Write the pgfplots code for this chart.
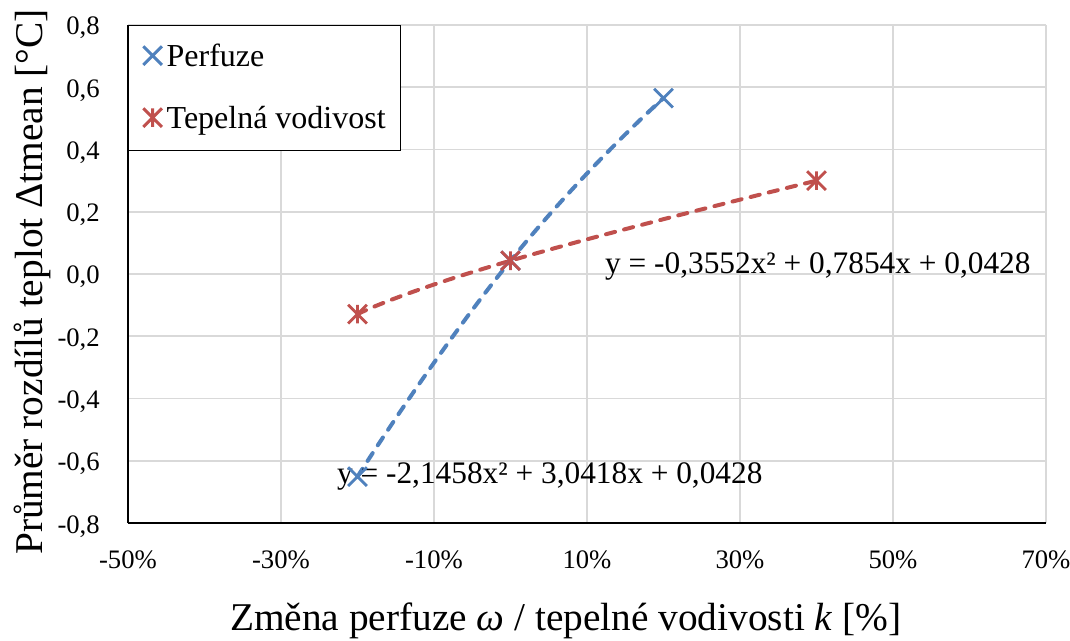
\documentclass[border=0pt]{standalone}
\usepackage{fontspec}
\setmainfont{Liberation Serif}
\usepackage{pgfplots}
\pgfplotsset{compat=1.18}
\definecolor{sblue}{HTML}{4F81BD}
\definecolor{sred}{HTML}{C0504D}
\definecolor{gridc}{HTML}{D9D9D9}
\pgfdeclareplotmark{xcross}{%
  \pgfpathmoveto{\pgfqpoint{-\pgfplotmarksize}{-\pgfplotmarksize}}%
  \pgfpathlineto{\pgfqpoint{\pgfplotmarksize}{\pgfplotmarksize}}%
  \pgfpathmoveto{\pgfqpoint{-\pgfplotmarksize}{\pgfplotmarksize}}%
  \pgfpathlineto{\pgfqpoint{\pgfplotmarksize}{-\pgfplotmarksize}}%
  \pgfusepathqstroke}
\pgfdeclareplotmark{xstar}{%
  \pgfpathmoveto{\pgfqpoint{-\pgfplotmarksize}{-\pgfplotmarksize}}%
  \pgfpathlineto{\pgfqpoint{\pgfplotmarksize}{\pgfplotmarksize}}%
  \pgfpathmoveto{\pgfqpoint{-\pgfplotmarksize}{\pgfplotmarksize}}%
  \pgfpathlineto{\pgfqpoint{\pgfplotmarksize}{-\pgfplotmarksize}}%
  \pgfpathmoveto{\pgfqpoint{0pt}{-\pgfplotmarksize}}%
  \pgfpathlineto{\pgfqpoint{0pt}{\pgfplotmarksize}}%
  \pgfusepathqstroke}
\begin{document}
\begin{tikzpicture}
\useasboundingbox (-96pt,-87.75pt) rectangle (706.5pt,392.25pt);
\begin{axis}[
  scale only axis, width=688.5pt, height=373.5pt,
  xmin=-50, xmax=70, ymin=-0.8, ymax=0.8,
  axis lines*=left,
  axis line style={-, line width=1.3pt, black},
  major tick length=0pt,
  xtick={-50,-30,-10,10,30,50,70},
  xticklabels={-50\%,-30\%,-10\%,10\%,30\%,50\%,70\%},
  ytick={-0.8,-0.6,-0.4,-0.2,0,0.2,0.4,0.6,0.8},
  /pgf/number format/fixed,
  /pgf/number format/fixed zerofill,
  /pgf/number format/precision=1,
  /pgf/number format/use comma,
  /pgf/number format/assume math mode=true,
  ticklabel style={font=\fontsize{20}{24}\selectfont, text=black},
  xticklabel style={anchor=base, inner sep=0pt, yshift=-33.75pt},
  yticklabel style={anchor=base east, inner sep=0pt, xshift=-21pt, yshift=-7.5pt},
  grid=major,
  major grid style={gridc, line width=1.3pt},
  label style={font=\fontsize{29.5}{35}\selectfont},
  xlabel={Změna perfuze \textit{ω} / tepelné vodivosti \textit{k} [\%]},
  ylabel={Průměr rozdílů teplot Δtmean [°C]},
  xlabel style={at={(axis description cs:0.477,-0.2149)}, anchor=base},
  ylabel style={at={(axis description cs:-0.0926,0.484)}, anchor=base},
  legend style={at={(axis description cs:0,1)}, anchor=north west,
    draw=black, line width=1pt, fill=white,
    font=\fontsize{24}{28}\selectfont,
    inner xsep=11pt, inner ysep=12.5pt, row sep=24.5pt,
    nodes={inner sep=0pt, text height=18.5pt, text depth=3.5pt},
    /tikz/every odd column/.append style={column sep=3.5pt}},
  legend cell align=left,
  legend image code/.code={\draw[#1] plot coordinates {(0pt,1pt)};},
]
\addplot[only marks, mark=xcross, mark size=7pt, sblue, line width=2.2pt]
  coordinates {(-20,-0.651) (0,0.0428) (20,0.565)};
\addlegendentry{Perfuze}
\addplot[only marks, mark=xstar, mark size=7pt, sred, line width=2.2pt]
  coordinates {(-20,-0.129) (0,0.0428) (40,0.300)};
\addlegendentry{Tepelná vodivost}
\addplot[forget plot, smooth, tension=0.9, no marks, sblue, line width=3pt, dash pattern=on 7pt off 7pt, line cap=round]
  coordinates {(-20,-0.651) (0,0.0428) (20,0.565)};
\addplot[forget plot, smooth, tension=0.9, no marks, sred, line width=3pt, dash pattern=on 7pt off 7pt, line cap=round]
  coordinates {(-20,-0.129) (0,0.0428) (40,0.300)};
\node[anchor=base west, inner sep=0pt, font=\fontsize{23.5}{28}\selectfont] at (axis cs:12.35,0.003) {y = -0,3552x² + 0,7854x + 0,0428};
\node[anchor=base west, inner sep=0pt, font=\fontsize{23.5}{28}\selectfont] at (axis cs:-22.7,-0.672) {y = -2,1458x² + 3,0418x + 0,0428};
\end{axis}
\end{tikzpicture}
\end{document}
